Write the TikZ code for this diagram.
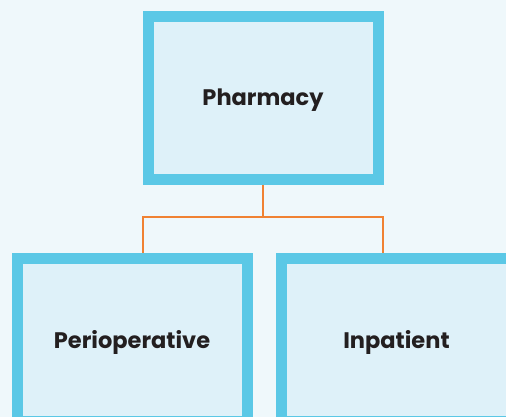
\documentclass[tikz,border=0pt]{standalone}
\usepackage{fontspec}
\setmainfont{Poppins}
\definecolor{bgblue}{HTML}{EFF8FB}
\definecolor{boxline}{HTML}{5BC8E6}
\definecolor{boxfill}{HTML}{DEF1F9}
\definecolor{linkorange}{HTML}{F08232}
\definecolor{labeltext}{HTML}{231F20}
\begin{document}
\begin{tikzpicture}[x=1pt,y=-1pt,
    unit/.style={draw=boxline, fill=boxfill, line width=11pt, rectangle,
        minimum width=230pt, minimum height=163pt, inner sep=0pt,
        text height=21pt, text depth=5pt,
        font=\bfseries\fontsize{22.5}{26}\selectfont, text=labeltext},
    link/.style={draw=linkorange, line width=2pt}]
            \useasboundingbox (0,0) rectangle (506,417);
            \fill [bgblue] (0,0) rectangle (506,417);
            \clip (0,0) rectangle (506,417);
            \node [unit] (pharm) at (263,98) {Pharmacy};
            \node [unit] (periop) at (132,340) {Perioperative};
            \node [unit] (inpat) at (396.5,340) {Inpatient};
            \draw [link] (pharm.south) -- ++(0,31.5) coordinate (split);
            \draw [link] (split) -| ([xshift=10.5pt]periop.north);
            \draw [link] (split) -| ([xshift=-13.5pt]inpat.north);
        \end{tikzpicture}
\end{document}
